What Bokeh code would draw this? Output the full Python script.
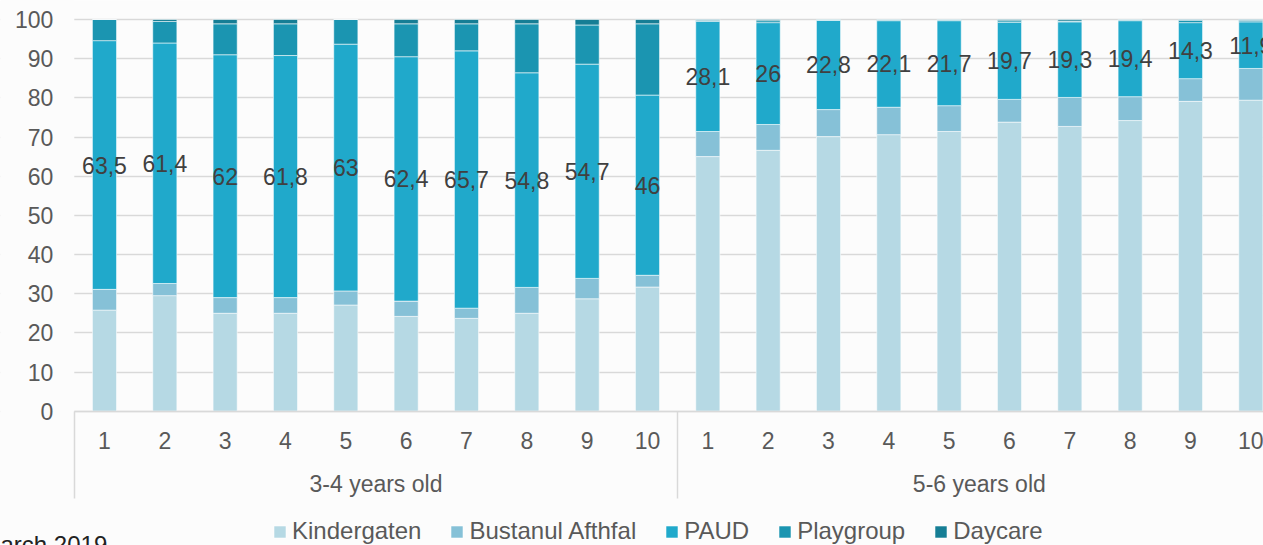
from bokeh.plotting import figure
from bokeh.models import (Range1d, FixedTicker, Legend, LegendItem, LinearAxis,
                          ColumnDataSource, Label, BoxAnnotation)
from bokeh.core.properties import value
from bokeh.embed import file_html
from bokeh.resources import INLINE

# ---------------- data ----------------
groups = ["3-4 years old", "5-6 years old"]
bar_labels = ["1", "2", "3", "4", "5", "6", "7", "8", "9", "10"]
series = ["Kindergaten", "Bustanul Afthfal", "PAUD", "Playgroup", "Daycare"]

kindergaten = [25.8, 29.5, 25.0, 25.0, 27.1, 24.2, 23.7, 25.0, 28.7, 31.7,
               65.0, 66.6, 70.1, 70.6, 71.4, 73.8, 72.7, 74.2, 79.1, 79.4]
bustanul = [5.3, 3.1, 4.0, 4.0, 3.6, 3.9, 2.6, 6.6, 5.2, 3.0,
            6.4, 6.6, 6.9, 7.0, 6.6, 5.8, 7.4, 6.1, 5.8, 8.1]
paud = [63.5, 61.4, 62, 61.8, 63, 62.4, 65.7, 54.8, 54.7, 46,
        28.1, 26, 22.8, 22.1, 21.7, 19.7, 19.3, 19.4, 14.3, 11.9]
playgroup = [5.4, 5.5, 7.9, 8.1, 6.3, 8.4, 6.9, 12.5, 10.0, 18.2,
             0.3, 0.5, 0.1, 0.2, 0.2, 0.4, 0.2, 0.2, 0.6, 0.4]
daycare = [0.0, 0.5, 1.1, 1.1, 0.0, 1.1, 1.1, 1.1, 1.4, 1.1,
           0.2, 0.3, 0.1, 0.1, 0.1, 0.3, 0.4, 0.1, 0.2, 0.2]
y_ticks = [0, 10, 20, 30, 40, 50, 60, 70, 80, 90, 100]
source_note = "March 2019"

colors = ["#b6d9e4", "#86c1d7", "#20a9cb", "#1b95b1", "#167e95"]

# ---------------- derived ----------------
n_per_group = len(bar_labels)
xs = [g * n_per_group + i + 1 for g in range(len(groups)) for i in range(n_per_group)]
keys = ["k", "b", "p", "pg", "dc"]
src = ColumnDataSource(dict(
    x=xs, k=kindergaten, b=bustanul, p=paud, pg=playgroup, dc=daycare,
    ly=[k + b + p / 2 for k, b, p in zip(kindergaten, bustanul, paud)],
    lt=[f"{v:g}".replace(".", ",") for v in paud],
))

FONT = "Liberation Sans"
FS = "23px"
GREY = "#595959"
BG = "#fcfcfc"
X_LEFT = 0.5              # left edge of the category area
X0, X1 = -0.7233, 20.21   # visible x window (right-most bar is cut, as in the reference)
Y0, Y1 = -34.29, 104.85   # visible y window (room below 0 for axis texts and legend)

p = figure(width=1263, height=545, output_backend="svg", toolbar_location=None,
           x_range=Range1d(X0, X1), y_range=Range1d(Y0, Y1),
           min_border=0)
p.background_fill_color = BG
p.border_fill_color = BG
p.outline_line_color = None

renderers = p.vbar_stack(keys, x="x", width=0.4, source=src, color=colors,
                         line_color="white", line_width=0.8, line_alpha=0.7)

p.text(x="x", y="ly", text="lt", source=src, text_align="center",
       text_baseline="middle", text_font=value(FONT),
       text_font_size=FS, text_color="#404040")

# grid (hidden left of the category area)
p.xgrid.grid_line_color = None
p.ygrid.grid_line_color = "#d9d9d9"
p.ygrid.grid_line_width = 1.5
p.ygrid.ticker = FixedTicker(ticks=y_ticks)
p.add_layout(BoxAnnotation(right=X_LEFT, fill_color=BG, fill_alpha=1,
                           line_color=None, level="underlay"))

# y axis
ya = p.yaxis[0]
ya.fixed_location = X_LEFT
ya.ticker = FixedTicker(ticks=y_ticks)
ya.axis_line_color = None
ya.major_tick_line_color = None
ya.minor_tick_line_color = None
ya.major_tick_out = 0
ya.major_tick_in = 0
ya.major_label_standoff = 21
ya.major_label_text_font = FONT
ya.major_label_text_font_size = FS
ya.major_label_text_color = GREY

# x axis: bar numbers, group separators drawn as long minor ticks
SEP = 87
xa = p.xaxis[0]
xa.fixed_location = 0
xa.bounds = (X_LEFT, X1)
seps = [g * n_per_group + 0.5 for g in range(len(groups) + 1)]
xa.ticker = FixedTicker(ticks=xs, minor_ticks=seps)
xa.major_label_overrides = {x: bar_labels[(x - 1) % n_per_group] for x in xs}
xa.axis_line_color = "#d9d9d9"
xa.axis_line_width = 1.5
xa.major_tick_line_color = None
xa.major_tick_out = 0
xa.major_tick_in = 0
xa.minor_tick_line_color = "#d9d9d9"
xa.minor_tick_line_width = 1.5
xa.minor_tick_in = 0
xa.minor_tick_out = SEP
xa.major_label_standoff = 21 - SEP
xa.major_label_text_font = FONT
xa.major_label_text_font_size = FS
xa.major_label_text_color = GREY

# group axis
centers = [g * n_per_group + (n_per_group + 1) / 2 for g in range(len(groups))]
ga = LinearAxis(ticker=FixedTicker(ticks=centers, minor_ticks=[]),
                major_label_overrides={c: n for c, n in zip(centers, groups)})
ga.fixed_location = 0
ga.axis_line_color = None
ga.major_tick_line_color = None
ga.minor_tick_line_color = None
ga.major_tick_out = 0
ga.major_tick_in = 0
ga.major_label_standoff = 60
ga.major_label_text_font = FONT
ga.major_label_text_font_size = FS
ga.major_label_text_color = GREY
p.add_layout(ga, "below")

legend = Legend(items=[LegendItem(label=s, renderers=[r]) for s, r in zip(series, renderers)],
                orientation="horizontal", location=(272, 0),
                glyph_width=15, glyph_height=15, label_standoff=5, spacing=28,
                padding=0, margin=0, label_height=15,
                label_text_font=FONT, label_text_font_size="24px",
                label_text_color=GREY,
                background_fill_alpha=0, border_line_alpha=0)
p.add_layout(legend)

# source note, cut off at the lower-left edge as in the reference
p.add_layout(Label(x=-20, y=15, x_units="screen", y_units="screen",
                   text=source_note, text_baseline="top",
                   text_font=FONT, text_font_size="24px", text_color="#222222"))

open("out.html", "w").write(file_html(p, INLINE))
